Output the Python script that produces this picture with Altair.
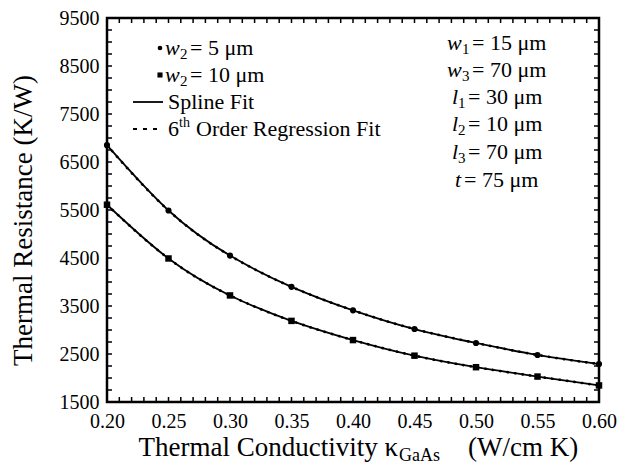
import altair as alt
import pandas as pd
import numpy as np

# ---------------- data ----------------
kappa = [0.20, 0.25, 0.30, 0.35, 0.40, 0.45, 0.50, 0.55, 0.60]
r_w2_5 = [6850, 5490, 4550, 3900, 3410, 3020, 2730, 2480, 2290]
r_w2_10 = [5610, 4490, 3720, 3190, 2790, 2465, 2225, 2030, 1845]
series_names = ["w2 = 5 um", "w2 = 10 um"]

x_tick_values = [0.20, 0.25, 0.30, 0.35, 0.40, 0.45, 0.50, 0.55, 0.60]
y_tick_values = [1500, 2500, 3500, 4500, 5500, 6500, 7500, 8500, 9500]
x_minor = [round(v, 2) for v in np.arange(0.20, 0.6001, 0.01)]
y_minor = list(range(1500, 9501, 250))

# ---------------- layout ----------------
OX, OY = 107, 18          # absolute position of plot origin in the page
W, H = 599 - OX, 402 - OY
SVG_H = 457
FONT = "Liberation Serif"

df = pd.DataFrame({
    "k": kappa * 2,
    "R": r_w2_5 + r_w2_10,
    "series": [series_names[0]] * len(kappa) + [series_names[1]] * len(kappa),
})
xs = alt.Scale(domain=[0.2, 0.6], nice=False, zero=False)
ys = alt.Scale(domain=[1500, 9500], nice=False, zero=False)

x_axis = alt.Axis(values=x_tick_values, format=".2f", labelFont=FONT, labelFontSize=20,
                  labelColor="black", labelPadding=9, labelFlush=False, ticks=False,
                  domain=False, grid=False, title=None)
y_axis = alt.Axis(values=y_tick_values, format="d", labelFont=FONT, labelFontSize=20,
                  labelColor="black", labelPadding=8, labelFlush=False, ticks=False,
                  domain=False, grid=False, title="Thermal Resistance (K/W)",
                  titleFont=FONT, titleFontSize=27, titleFontWeight="normal",
                  titleColor="black", titleAngle=270, titleX=-84, titleY=202,
                  titleAlign="center", titleBaseline="middle")

base = alt.Chart(df).encode(
    x=alt.X("k:Q", scale=xs, axis=x_axis),
    y=alt.Y("R:Q", scale=ys, axis=y_axis),
    detail="series:N",
)
spline = base.mark_line(interpolate="natural", color="black", strokeWidth=1.8)
regress = base.mark_line(interpolate="natural", color="black", strokeWidth=2.6,
                         strokeDash=[0.5, 7], strokeCap="round")
points = base.mark_point(filled=True, color="black", opacity=1).encode(
    shape=alt.Shape("series:N", scale=alt.Scale(domain=series_names,
                                                 range=["circle", "square"]), legend=None),
    size=alt.Size("series:N", scale=alt.Scale(domain=series_names, range=[38, 42]),
                  legend=None),
)

# inward minor ticks on all four sides
tx = pd.DataFrame({"k": x_minor})
ty = pd.DataFrame({"R": y_minor})
TL = 5
tick_bottom = alt.Chart(tx).mark_rule(color="black", strokeWidth=1.5).encode(
    x=alt.X("k:Q", scale=xs), y=alt.value(H), y2=alt.value(H - TL))
tick_top = alt.Chart(tx).mark_rule(color="black", strokeWidth=1.5).encode(
    x=alt.X("k:Q", scale=xs), y=alt.value(0), y2=alt.value(TL))
tick_left = alt.Chart(ty).mark_rule(color="black", strokeWidth=1.5).encode(
    y=alt.Y("R:Q", scale=ys), x=alt.value(0), x2=alt.value(TL))
tick_right = alt.Chart(ty).mark_rule(color="black", strokeWidth=1.5).encode(
    y=alt.Y("R:Q", scale=ys), x=alt.value(W - TL), x2=alt.value(W))

dummy = pd.DataFrame({"a": [0]})


def txt(s, x, y, size=22, style="normal", align="left"):
    return alt.Chart(dummy).mark_text(
        text=s, font=FONT, fontSize=size, fontStyle=style, align=align,
        baseline="alphabetic", color="black",
    ).encode(x=alt.value(x - OX), y=alt.value(y - OY))


def sym(shape, x, y, size):
    return alt.Chart(dummy).mark_point(shape=shape, filled=True, color="black",
                                       opacity=1, size=size).encode(
        x=alt.value(x - OX), y=alt.value(y - OY))


def seg(x1, x2, y, dash=None):
    kw = dict(color="black", strokeWidth=1.8)
    if dash:
        kw["strokeDash"] = dash
    return alt.Chart(dummy).mark_rule(**kw).encode(
        x=alt.value(x1 - OX), x2=alt.value(x2 - OX), y=alt.value(y - OY))


ann = []
# left legend block
ann += [sym("circle", 160, 48, 22), txt("w", 165, 55, style="italic"),
        txt("2", 180, 59, size=15), txt("= 5 μm", 190, 55)]
ann += [sym("square", 160, 75, 26), txt("w", 165, 82, style="italic"),
        txt("2", 180, 86, size=15), txt("= 10 μm", 190, 82)]
ann += [seg(133, 163, 102), txt("Spline Fit", 168, 109)]
ann += [seg(133, 163, 129, dash=[4, 6]), txt("6", 168, 136), txt("th", 179, 127, size=14),
        txt("Order Regression Fit", 196, 136)]
# right parameter block
ann += [txt("w", 447, 50, style="italic"), txt("1", 462, 54, size=15), txt("= 15 μm", 472, 50)]
ann += [txt("w", 447, 77, style="italic"), txt("3", 462, 81, size=15), txt("= 70 μm", 472, 77)]
ann += [txt("l", 452, 104, style="italic"), txt("1", 458, 108, size=15), txt("= 30 μm", 468, 104)]
ann += [txt("l", 452, 131, style="italic"), txt("2", 458, 135, size=15), txt("= 10 μm", 468, 131)]
ann += [txt("l", 452, 159, style="italic"), txt("3", 458, 163, size=15), txt("= 70 μm", 468, 159)]
ann += [txt("t", 455, 187, style="italic"), txt("= 75 μm", 464, 187)]
# x axis title with subscript
ann += [txt("Thermal Conductivity κ", 398, 456, size=27, align="right"),
        txt("GaAs", 399, 461, size=18), txt("(W/cm K)", 468, 456, size=27)]

chart = alt.layer(
    tick_bottom, tick_top, tick_left, tick_right, regress, spline, points, *ann
).properties(
    width=W, height=H,
    autosize=alt.AutoSizeParams(type="none"),
    padding={"left": OX - 8, "top": OY - 8, "right": 19, "bottom": SVG_H - (OY - 8) - H},
    background="white",
).configure_view(stroke="black", strokeWidth=2.5)

chart.save("out.html", embed_options={"renderer": "svg", "actions": False})
